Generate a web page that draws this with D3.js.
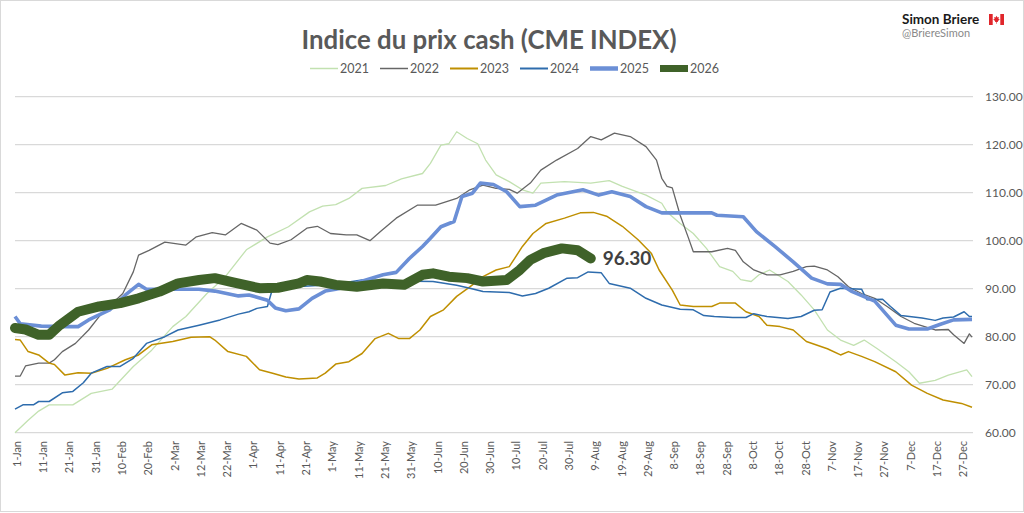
<!DOCTYPE html>
<html>
<head>
<meta charset="utf-8">
<script src="https://cdn.jsdelivr.net/npm/d3@7"></script>
<style>
  body { margin: 0; background: #fff; }
  svg { display: block; font-family: Lato, "Open Sans", sans-serif; }
</style>
</head>
<body>
<svg id="chart" width="1024" height="513"></svg>
<script>
// day of year (0 = 1-Jan) and index value
const s2021 = [[0,60],[5,62.6],[9,64.5],[13,65.8],[22,65.8],[29,68.2],[37,69.1],[45,73.8],[52,77.2],[60,82.1],[65,84.2],[73,89],[80,92.5],[88,98.1],[96,100.8],[104,102.9],[112,106],[117,107.2],[122,107.5],[127,108.8],[132,110.9],[141,111.5],[147,112.9],[155,114],[158,116.1],[162,119.9],[165,120.2],[168,122.7],[172,121.3],[176,120.2],[179,116.8],[183,113.7],[188,112.3],[193,110.6],[197,109.9],[200,112],[209,112.3],[219,112],[226,112.5],[231,111.3],[240,109.5],[246,107.8],[248,106],[253,103.6],[258,101.5],[263,98.4],[268,94.6],[273,93.6],[276,91.9],[280,91.5],[283,92.9],[287,93.9],[294,91.5],[299,88.7],[304,85.6],[309,81.4],[314,79.3],[319,78.2],[323,79.3],[328,77.5],[335,74.8],[340,72.7],[344,70.3],[350,70.9],[355,72],[362,73.1],[364,71.7]];
const s2022 = [[0,71.8],[2,71.8],[4,73.9],[9,74.5],[13,74.5],[15,75.2],[18,76.9],[23,78.6],[28,81.4],[32,84.2],[37,86.9],[41,89],[45,93.5],[47,97],[51,98],[57,99.7],[65,99.1],[69,100.8],[75,101.7],[80,101.2],[86,103.6],[92,102.2],[97,99.5],[100,99.2],[105,100.2],[111,102.6],[115,103],[120,101.5],[126,101.2],[130,101.2],[135,100],[139,101.9],[145,104.7],[153,107.4],[160,107.4],[168,108.8],[173,110.6],[178,111.6],[183,110.9],[188,110.7],[191,109.9],[196,112],[200,114.7],[206,116.8],[214,119.2],[219,121.7],[223,121],[228,122.4],[234,121.7],[240,119.6],[244,116.8],[246,113],[248,111.3],[250,111],[253,105.3],[256,100.8],[258,97.7],[265,97.7],[271,98.4],[274,98],[277,95.6],[281,93.9],[286,92.9],[291,92.9],[296,93.6],[301,94.6],[304,94.7],[309,93.9],[313,92.5],[317,90.4],[322,89],[327,88],[332,86.2],[337,84.2],[342,82.8],[350,81.4],[355,81.5],[357,80.4],[361,78.6],[363,80.6],[364,79.9]];
const s2023 = [[0,79.4],[2,79.3],[5,76.9],[9,76.2],[13,74.5],[15,74.2],[19,72],[24,72.5],[29,72.4],[35,73.4],[42,75.2],[47,76.2],[52,78.3],[60,79],[67,79.9],[74,80],[76,79.3],[81,76.9],[88,75.9],[93,73.1],[98,72.4],[103,71.6],[108,71.2],[115,71.4],[118,72.4],[122,74.3],[127,74.8],[132,76.5],[137,79.6],[142,80.7],[146,79.6],[150,79.6],[154,81.4],[158,84.2],[163,85.6],[168,88.4],[173,90.4],[178,92.5],[183,93.9],[188,94.6],[193,98.8],[197,101.5],[202,103.6],[209,104.7],[215,105.8],[220,105.9],[225,105.1],[231,103],[237,100.2],[242,97.4],[245,93.9],[250,89.7],[253,86.6],[258,86.3],[265,86.3],[268,87],[274,87],[278,85.2],[283,84.2],[286,82.4],[291,82.1],[296,81.4],[301,79],[309,77.5],[314,76.2],[317,76.9],[322,75.9],[327,74.8],[335,72.7],[341,69.9],[347,68.2],[353,66.8],[360,66.1],[364,65.3]];
const s2024 = [[0,64.9],[3,65.8],[7,65.8],[9,66.5],[13,66.5],[18,68.3],[22,68.6],[26,70.4],[29,72.4],[35,73.8],[40,73.8],[45,75.5],[50,78.6],[57,80],[62,81.4],[70,82.4],[78,83.5],[85,84.7],[89,85.2],[92,85.9],[96,86.3],[98,90.1],[110,90.5],[120,90.8],[132,91.8],[145,91.6],[159,91.5],[168,90.7],[173,90.1],[178,89.4],[188,89.2],[193,88.5],[198,89],[203,90.1],[210,92.2],[214,92.3],[218,93.5],[223,93.3],[226,91.1],[234,90.1],[240,88],[246,86.6],[253,85.7],[258,85.6],[262,84.4],[266,84.2],[273,84],[278,84],[281,84.8],[286,84.2],[294,83.8],[299,84.2],[304,85.5],[307,85.6],[310,89.3],[314,90.1],[318,90],[322,89.9],[324,87.7],[330,87.8],[333,86.3],[337,84.4],[345,83.9],[350,83.4],[353,83.9],[357,84.1],[361,85.2],[363,84.2],[364,84.2]];
const s2025 = [[0,84.2],[2,82.7],[10,82.2],[20,82.1],[24,82.1],[28,83.5],[36,85.6],[42,88.7],[47,90.9],[50,89.9],[55,89.9],[70,89.9],[76,89.5],[85,88.5],[89,88.7],[96,87.6],[99,86],[103,85.4],[108,85.8],[113,88],[118,89.5],[122,89.9],[127,90.5],[131,91.4],[140,92.9],[145,93.4],[150,96.3],[155,98.8],[158,100.5],[162,102.9],[167,104],[170,109.2],[174,109.9],[177,112],[182,111.7],[187,110.2],[192,107.1],[198,107.4],[206,109.5],[216,110.6],[222,109.5],[227,110.2],[234,109.2],[240,107.1],[246,105.8],[253,105.8],[265,105.8],[267,105.3],[277,105],[282,101.9],[289,98.8],[296,95.6],[303,92.2],[309,91],[314,90.9],[318,89.5],[327,87.4],[335,82.4],[340,81.6],[347,81.6],[352,82.6],[357,83.5],[364,83.6]];
const s2026 = [[0,81.8],[4,81.5],[9,80.4],[13,80.4],[17,82.4],[24,85.2],[32,86.3],[40,87],[47,88],[55,89.4],[62,91.1],[70,91.8],[76,92.2],[83,91.3],[93,90.1],[100,90.2],[108,91.1],[111,91.8],[116,91.5],[122,90.8],[130,90.4],[140,91.1],[148,90.8],[155,92.9],[159,93.2],[165,92.5],[172,92.2],[178,91.5],[187,91.8],[192,93.9],[196,96],[201,97.4],[208,98.4],[214,98],[219,96.3]];

const years = ["2021", "2022", "2023", "2024", "2025", "2026"];
const seriesData = [s2021, s2022, s2023, s2024, s2025, s2026];
const tickDays = d3.range(0, 361, 10);
const tickLabels = ["1-Jan","11-Jan","21-Jan","31-Jan","10-Feb","20-Feb","2-Mar","12-Mar","22-Mar","1-Apr","11-Apr","21-Apr","1-May","11-May","21-May","31-May","10-Jun","20-Jun","30-Jun","10-Jul","20-Jul","30-Jul","9-Aug","19-Aug","29-Aug","8-Sep","18-Sep","28-Sep","8-Oct","18-Oct","28-Oct","7-Nov","17-Nov","27-Nov","7-Dec","17-Dec","27-Dec"];
const yTicks = [60, 70, 80, 90, 100, 110, 120, 130];

// styles
const colors = ["#C2E1B0", "#666666", "#BF8F00", "#2E6CAD", "#6B8FD6", "#3F6229"];
const widths = [1.3, 1.3, 1.5, 1.5, 3.6, 10];
const legendWidths = [1.5, 1.5, 2, 2, 4.5, 7];

let chart = d3.select("#chart");

// outer border
chart.append("rect")
    .attr("x", 0.5).attr("y", 0.5)
    .attr("width", 1023).attr("height", 511)
    .attr("fill", "#fff")
    .attr("stroke", "#D9D9D9");

// scales
let x = d3.scaleLinear().domain([0, 364]).range([15, 972]);
let y = d3.scaleLinear().domain([60, 130]).range([432.7, 96.7]);

// gridlines + right y labels
let grid = chart.append("g");
grid.selectAll("line")
    .data(yTicks)
    .enter()
    .append("line")
        .attr("x1", 15).attr("x2", 973)
        .attr("y1", d => y(d)).attr("y2", d => y(d))
        .attr("stroke", "#D9D9D9")
        .attr("stroke-width", 1.2);

grid.selectAll("text")
    .data(yTicks)
    .enter()
    .append("text")
        .attr("x", 985)
        .attr("y", d => y(d))
        .attr("dy", "0.35em")
        .attr("font-size", "12px")
        .attr("fill", "#595959")
        .text(d3.format(".2f"));

// x labels, rotated
chart.append("g").selectAll("text")
    .data(tickDays)
    .enter()
    .append("text")
        .attr("transform", d => "translate(" + (x(d) + 2) + ",441) rotate(-90)")
        .attr("text-anchor", "end")
        .attr("dy", "0.35em")
        .attr("font-size", "11px")
        .attr("fill", "#595959")
        .text((d, i) => tickLabels[i]);

// lines
let line = d3.line()
    .x(d => x(d[0]))
    .y(d => y(d[1]));

chart.append("g").selectAll("path")
    .data(seriesData)
    .enter()
    .append("path")
        .attr("d", line)
        .attr("fill", "none")
        .attr("stroke", (d, i) => colors[i])
        .attr("stroke-width", (d, i) => widths[i])
        .attr("stroke-linejoin", "round")
        .attr("stroke-linecap", (d, i) => i == 5 ? "round" : "butt");

// last value label on 2026
let last = s2026[s2026.length - 1];
chart.append("text")
    .attr("x", x(last[0]) + 12)
    .attr("y", y(last[1]))
    .attr("dy", "0.36em")
    .attr("font-size", "19px")
    .attr("font-weight", "bold")
    .attr("fill", "#404040")
    .text(last[1].toFixed(2));

// title
chart.append("text")
    .attr("x", 489)
    .attr("y", 48.5)
    .attr("text-anchor", "middle")
    .attr("font-size", "26px")
    .attr("font-weight", "bold")
    .attr("fill", "#595959")
    .attr("textLength", 375)
    .attr("lengthAdjust", "spacingAndGlyphs")
    .text("Indice du prix cash (CME INDEX)");

// legend
let legend = chart.append("g");
years.forEach(function(yr, i) {
    let lx = 310 + i * 70;
    legend.append("line")
        .attr("x1", lx).attr("x2", lx + 28)
        .attr("y1", 68.5).attr("y2", 68.5)
        .attr("stroke", colors[i])
        .attr("stroke-width", legendWidths[i]);
    legend.append("text")
        .attr("x", lx + 30)
        .attr("y", 68.5)
        .attr("dy", "0.36em")
        .attr("font-size", "12.5px")
        .attr("fill", "#595959")
        .text(yr);
});

// author block, top right
chart.append("text")
    .attr("x", 902).attr("y", 24)
    .attr("font-size", "13.5px")
    .attr("font-weight", "bold")
    .attr("fill", "#1a1a1a")
    .text("Simon Briere");
chart.append("text")
    .attr("x", 902).attr("y", 37)
    .attr("font-size", "11px")
    .attr("fill", "#8A8A8A")
    .text("@BriereSimon");

// small Canadian flag
let flag = chart.append("g").attr("transform", "translate(989,14)");
flag.append("rect").attr("width", 15).attr("height", 11).attr("fill", "#fff");
flag.append("rect").attr("width", 3.7).attr("height", 11).attr("fill", "#E0262B");
flag.append("rect").attr("x", 11.3).attr("width", 3.7).attr("height", 11).attr("fill", "#E0262B");
flag.append("path")
    .attr("d", "M7.5,1.8 L8.5,3.6 L9.9,3 L9.4,5.1 L10.8,5.3 L8.8,7.2 L9,8.1 L7.8,7.9 L7.8,9.8 L7.2,9.8 L7.2,7.9 L6,8.1 L6.2,7.2 L4.2,5.3 L5.6,5.1 L5.1,3 L6.5,3.6 Z")
    .attr("fill", "#E0262B");
</script>
</body>
</html>
